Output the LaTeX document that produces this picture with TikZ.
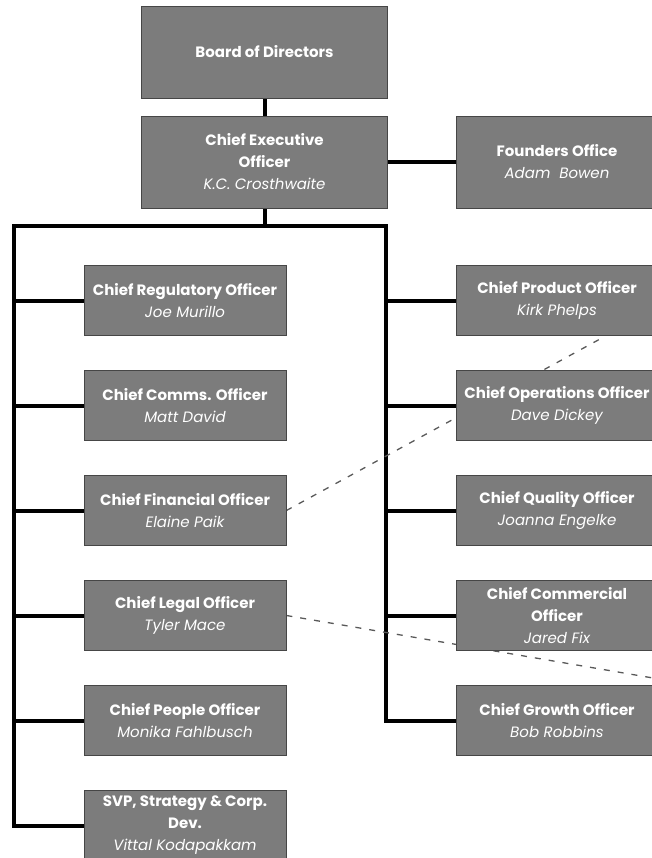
\documentclass[tikz,border=0pt]{standalone}
\usepackage{fontspec}
\setmainfont{Poppins}
\usepackage{xcolor}
\usepackage{tikz}
\usetikzlibrary{positioning, backgrounds}

\definecolor{boxgray}{RGB}{124,124,124}
\definecolor{edgegray}{RGB}{70,70,70}

\begin{document}
\begin{tikzpicture}[x=1pt,y=-1pt,node distance=105pt,line join=miter]
                \tikzset{post/.style={draw=edgegray, line width=0.8pt, fill=boxgray, text=white,
                                      minimum width=202pt, minimum height=70pt, align=center,
                                      font=\fontsize{15}{22}\selectfont, inner sep=1pt},
                         head/.style={post, minimum width=246pt, minimum height=92pt},
                         bus/.style={line width=4pt, black},
                         dotline/.style={line width=1.3pt, black!65, dash pattern=on 6pt off 8pt}}
                \newcommand{\who}[1]{{\itshape #1}}

                \useasboundingbox (0,0) rectangle (652,858);

                \node[head] (board) at (264.5,52) {\textbf{Board of Directors}};
                \node[head] (ceo) [below of=board, node distance=110pt] {\textbf{Chief Executive}\\\textbf{Officer}\\\who{K.C. Crosthwaite}};
                \node[post, minimum height=92pt] (founders) [right of=ceo, node distance=292.5pt] {\textbf{Founders Office}\\\who{Adam\ \ Bowen}};

                \node[post] (reg) at (185,300.5) {\textbf{Chief Regulatory Officer}\\\who{Joe Murillo}};
                \node[post] (comms) [below of=reg] {\textbf{Chief Comms. Officer}\\\who{Matt David}};
                \node[post] (cfo) [below of=comms] {\textbf{Chief Financial Officer}\\\who{Elaine Paik}};
                \node[post] (legal) [below of=cfo] {\textbf{Chief Legal Officer}\\\who{Tyler Mace}};
                \node[post] (people) [below of=legal] {\textbf{Chief People Officer}\\\who{Monika Fahlbusch}};
                \node[post] (svp) [below of=people] {\textbf{SVP, Strategy \& Corp.}\\\textbf{Dev.}\\\who{Vittal Kodapakkam}};

                \node[post] (product) at (557,300.5) {\textbf{Chief Product Officer}\\\who{Kirk Phelps}};
                \node[post] (ops) [below of=product] {\textbf{Chief Operations Officer}\\\who{Dave Dickey}};
                \node[post] (quality) [below of=ops] {\textbf{Chief Quality Officer}\\\who{Joanna Engelke}};
                \node[post] (commercial) [below of=quality] {\textbf{Chief Commercial}\\\textbf{Officer}\\\who{Jared Fix}};
                \node[post] (growth) [below of=commercial] {\textbf{Chief Growth Officer}\\\who{Bob Robbins}};

                \coordinate (lbus) at (14,226);
                \coordinate (rbus) at (386,226);
                \coordinate (offpage) at (700,686);

                \begin{pgfonlayer}{background}
                \draw[bus] (board) -- (ceo);
                \draw[bus] (ceo) -- (founders);
                \draw[bus] (ceo.south) -- (ceo.south |- lbus);
                \draw[bus] (svp.west) -| (lbus) -- (rbus) |- (growth.west);
                \foreach \n in {reg,comms,cfo,legal,people}
                    \draw[bus] (\n.west) -- (\n.west -| lbus);
                \foreach \n in {product,ops,quality,commercial}
                    \draw[bus] (\n.west) -- (\n.west -| rbus);
                \draw[dotline] (cfo.east) -- (product.-36);
                \draw[dotline] (legal.east) -- (offpage);
                \end{pgfonlayer}
            \end{tikzpicture}
\end{document}
